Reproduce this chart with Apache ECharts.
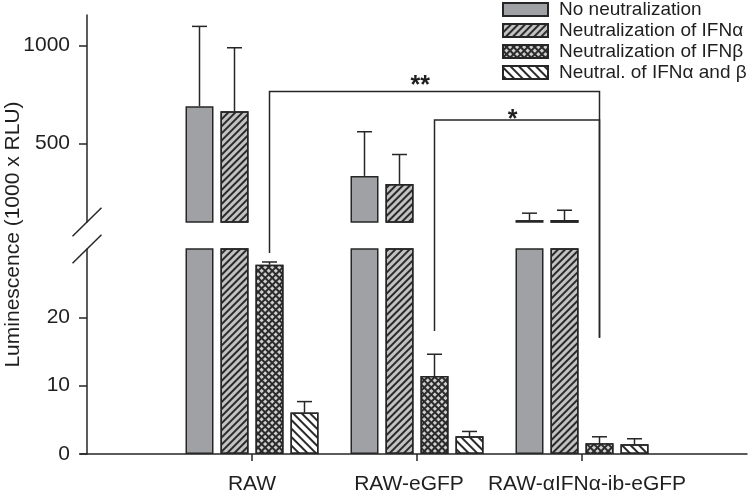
<!DOCTYPE html>
<html><head><meta charset="utf-8">
<script src="https://cdn.jsdelivr.net/npm/echarts@6/dist/echarts.min.js"></script>
<style>html,body{margin:0;padding:0;background:#fff}#c{width:750px;height:495px}</style>
</head><body><div id="c"></div>
<script>
// ---- data ----
const categories = ['', 'RAW', 'RAW-eGFP', 'RAW-αIFNα-ib-eGFP', ''];
const seriesNames = ['No neutralization', 'Neutralization of IFNα', 'Neutralization of IFNβ', 'Neutral. of IFNα and β'];
const noNeutral      = [null, 690, 335, 110, null];
const noNeutralErr   = [null, 1097, 560, 145, null];
const neutAlpha      = [null, 665, 294, 110, null];
const neutAlphaErr   = [null, 988, 444, 160, null];
const neutBeta       = [null, 27.7, 11.4, 1.56, null];
const neutBetaErr    = [null, 28.1, 14.6, 2.52, null];
const neutBoth       = [null, 6.07, 2.58, 1.41, null];
const neutBothErr    = [null, 7.67, 3.3, 2.23, null];
const upperTicks = [500, 1000];
const lowerTicks = [0, 10, 20];
const upperRange = [100, 1155];
const lowerRange = [0, 30];
// significance brackets: from/to = [categoryIndex, seriesIndex]; top in upper-axis units; leg ends in lower-axis units
const bracketLabels = ['**', '*'];
const bracketFrom = [[1, 2], [2, 2]];
const bracketTo = [[3, 2], [3, 2]];
const bracketTop = [765, 620];
const bracketLegs = [[29.4, 17], [18, 17]];
const bracketLabelCat = [2.02, 2.58];

// ---- styles ----
const INK = '#262626';
const TXT = '#1f1f1f';
const FONT = 'Liberation Sans, Arial, sans-serif';
const BAR_W = 28, BAR_STEP = 35, CAP = 15;
const labelShift = {'RAW-eGFP': -8, 'RAW-αIFNα-ib-eGFP': 5};
const values = [noNeutral, neutAlpha, neutBeta, neutBoth];
const errs = [noNeutralErr, neutAlphaErr, neutBetaErr, neutBothErr];
const itemStyles = [
  {color: '#a0a1a5', borderColor: INK, borderWidth: 1.5},
  {color: '#c2c2c2', borderColor: INK, borderWidth: 1.5,
   decal: {symbol: 'rect', symbolSize: 1, dashArrayX: [1, 0], dashArrayY: [1.5, 2.5], rotation: -Math.PI / 4, color: '#2a2a2a'}},
  {color: '#2b2b2b', borderColor: INK, borderWidth: 1.5,
   decal: {symbol: 'rect', symbolSize: 1, dashArrayX: [2.5, 1.5], dashArrayY: [2.5, 1.5], rotation: Math.PI / 4, color: '#cfcfcf'}},
  {color: '#ffffff', borderColor: INK, borderWidth: 1.5,
   decal: {symbol: 'rect', symbolSize: 1, dashArrayX: [1, 0], dashArrayY: [1.6, 3.4], rotation: Math.PI / 4, color: '#2a2a2a'}}
];

function errData(inRange) {
  const out = [];
  for (let s = 0; s < 4; s++) {
    for (let c = 0; c < categories.length; c++) {
      const v = values[s][c], e = errs[s][c];
      if (v == null || e == null) continue;
      if (inRange(v)) out.push([c, s, v, e]);
    }
  }
  return out;
}
function renderErr(params, api) {
  const c = api.value(0), s = api.value(1), v = api.value(2), e = api.value(3);
  const p0 = api.coord([c, v]), p1 = api.coord([c, e]);
  const x = p0[0] + (s - 1.5) * BAR_STEP;
  const st = {stroke: INK, lineWidth: 1.5};
  return {type: 'group', children: [
    {type: 'line', shape: {x1: x, y1: p0[1], x2: x, y2: p1[1]}, style: st},
    {type: 'line', shape: {x1: x - CAP / 2, y1: p1[1], x2: x + CAP / 2, y2: p1[1]}, style: st}
  ]};
}

const series = [];
for (let g = 0; g < 2; g++) {
  for (let s = 0; s < 4; s++) {
    series.push({
      type: 'bar', name: seriesNames[s], xAxisIndex: g, yAxisIndex: g,
      data: values[s], barWidth: BAR_W, barGap: '25%', clip: true,
      itemStyle: itemStyles[s], emphasis: {disabled: true}
    });
  }
}
series.push({type: 'custom', name: 'errU', xAxisIndex: 0, yAxisIndex: 0, clip: true,
  data: errData(v => v >= upperRange[0]), renderItem: renderErr, encode: {x: 0, y: [2, 3]}, z: 5});
series.push({type: 'custom', name: 'errL', xAxisIndex: 1, yAxisIndex: 1, clip: true,
  data: errData(v => v <= lowerRange[1]), renderItem: renderErr, encode: {x: 0, y: [2, 3]}, z: 5});

const axisLineStyle = {show: true, lineStyle: {color: INK, width: 1.5}};
const plainNum = v => String(v);
const catLabel = v => {
  const sh = labelShift[v] || 0;
  if (!sh) return v;
  return sh < 0 ? '{l|' + v + '}' : '{r|' + v + '}';
};
const chart = echarts.init(document.getElementById('c'), null, {renderer: 'canvas'});
chart.setOption({
  animation: false,
  backgroundColor: '#fff',
  textStyle: {fontFamily: FONT},
  legend: {
    data: seriesNames, orient: 'vertical', left: 502, top: 0, padding: 0,
    itemWidth: 45, itemHeight: 13, itemGap: 2, icon: 'rect', selectedMode: false,
    textStyle: {fontSize: 19, color: TXT, lineHeight: 19, padding: [0, 0, 0, 6]}
  },
  grid: [
    {left: 87, right: 3, top: 15, height: 207},
    {left: 87, right: 3, top: 249, height: 206}
  ],
  xAxis: [
    {type: 'category', gridIndex: 0, data: categories, boundaryGap: false, show: false},
    {type: 'category', gridIndex: 1, data: categories, boundaryGap: false,
     axisLine: axisLineStyle,
     axisTick: {show: true, length: 7, lineStyle: {color: INK, width: 1.5}, interval: (i, v) => v !== ''},
     axisLabel: {interval: 0, fontSize: 21, color: TXT, margin: 20, formatter: catLabel,
       rich: {
         l: {fontSize: 21, color: TXT, fontFamily: FONT, padding: [0, 16, 0, 0]},
         r: {fontSize: 21, color: TXT, fontFamily: FONT, padding: [0, 0, 0, 10]}
       }}}
  ],
  yAxis: [
    {type: 'value', gridIndex: 0, min: upperRange[0], max: upperRange[1], splitLine: {show: false},
     axisLine: axisLineStyle,
     axisTick: {show: true, length: 8, lineStyle: {color: INK, width: 1.5}, customValues: upperTicks},
     axisLabel: {fontSize: 21, color: TXT, margin: 17, customValues: upperTicks, formatter: plainNum}},
    {type: 'value', gridIndex: 1, min: lowerRange[0], max: lowerRange[1], splitLine: {show: false},
     axisLine: axisLineStyle,
     axisTick: {show: true, length: 8, lineStyle: {color: INK, width: 1.5}, customValues: lowerTicks},
     axisLabel: {fontSize: 21, color: TXT, margin: 17, customValues: lowerTicks, formatter: plainNum}}
  ],
  series: series
});

// ---- annotations computed from the axes ----
const offX = s => (s - 1.5) * BAR_STEP;
const catPix = c => {
  const i = Math.floor(c), f = c - i;
  const a = chart.convertToPixel({xAxisIndex: 1}, i);
  if (f === 0) return a;
  const b = chart.convertToPixel({xAxisIndex: 1}, i + 1);
  return a + (b - a) * f;
};
const xPix = (c, s) => catPix(c) + offX(s);
const yU = v => chart.convertToPixel({yAxisIndex: 0}, v);
const yL = v => chart.convertToPixel({yAxisIndex: 1}, v);
const graphics = [];
const lineSt = {stroke: INK, lineWidth: 1.5, fill: null};
for (let i = 0; i < bracketLabels.length; i++) {
  const x1 = xPix(bracketFrom[i][0], bracketFrom[i][1]);
  const x2 = xPix(bracketTo[i][0], bracketTo[i][1]);
  const yt = yU(bracketTop[i]);
  graphics.push({type: 'polyline', silent: true,
    shape: {points: [[x1, yL(bracketLegs[i][0])], [x1, yt], [x2, yt], [x2, yL(bracketLegs[i][1])]]},
    style: lineSt});
  graphics.push({type: 'text', silent: true,
    x: catPix(bracketLabelCat[i]), y: yt - (i === 0 ? 5 : 0),
    style: {text: bracketLabels[i], fontSize: 25, fontWeight: 'bold', fill: TXT, align: 'center', verticalAlign: 'middle',
            fontFamily: FONT}});
}
// axis break marks
const ax = chart.convertToPixel({xAxisIndex: 1}, 0);
[yU(upperRange[0]), yL(lowerRange[1])].forEach(y => {
  graphics.push({type: 'line', silent: true, shape: {x1: ax - 14.5, y1: y + 14.2, x2: ax + 14.5, y2: y - 14.2},
    style: {stroke: INK, lineWidth: 1.5}});
});
// x axis extends slightly left of the y axis
const y0 = yL(0);
graphics.push({type: 'line', silent: true, shape: {x1: ax - 7, y1: y0, x2: ax, y2: y0}, style: {stroke: INK, lineWidth: 1.5}});
// y axis title
graphics.push({type: 'text', silent: true, x: 13, y: (yU(upperRange[1]) + y0) / 2, rotation: Math.PI / 2,
  style: {text: 'Luminescence (1000 x RLU)', fontSize: 21, fill: TXT, align: 'center', verticalAlign: 'middle',
          fontFamily: FONT}});
chart.setOption({graphic: graphics});
</script>
</body></html>
